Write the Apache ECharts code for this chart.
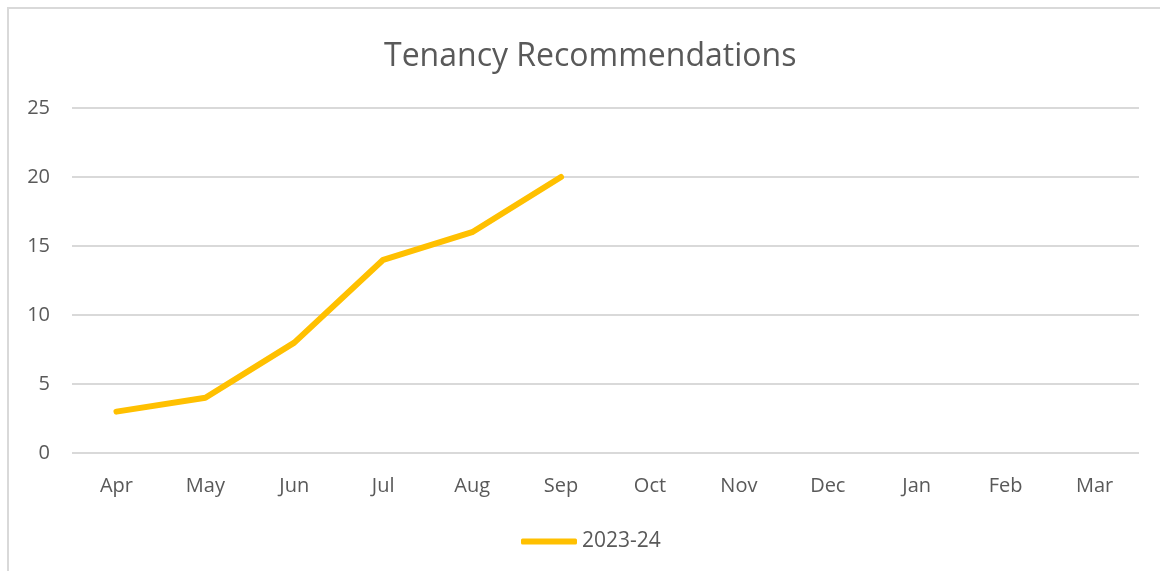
<!DOCTYPE html>
<html>
<head>
<meta charset="utf-8">
<script src="https://cdn.jsdelivr.net/npm/echarts@6/dist/echarts.min.js"></script>
<style>
  html, body { margin: 0; padding: 0; background: #fff; overflow: hidden; }
  .frame {
    position: absolute;
    left: 7px;
    top: 7px;
    width: 1200px;
    height: 600px;
    border: 2px solid #d9d9d9;
    box-sizing: border-box;
  }
  #chart { position: absolute; left: 0; top: 0; width: 1160px; height: 571px; }
</style>
</head>
<body>
<div class="frame"></div>
<div id="chart"></div>
<script>
// 数据
const months = ['Apr', 'May', 'Jun', 'Jul', 'Aug', 'Sep', 'Oct', 'Nov', 'Dec', 'Jan', 'Feb', 'Mar']
const recommendations = [3, 4, 8, 14, 16, 20, null, null, null, null, null, null]
const seriesName = '2023-24'

const textColor = '#595959'
const fontFamily = '"Open Sans", "Liberation Sans", sans-serif'

const chart = echarts.init(document.getElementById('chart'))

const option = {
  animation: false,
  title: {
    text: 'Tenancy Recommendations',
    left: 379,
    top: 36,
    textStyle: {
      color: textColor,
      fontSize: 32,
      fontWeight: 'normal',
      fontFamily: fontFamily
    }
  },
  legend: {
    data: [seriesName],
    left: 516,
    top: 526,
    icon: 'roundRect',
    itemWidth: 56,
    itemHeight: 6,
    itemGap: 4,
    textStyle: {
      color: textColor,
      fontSize: 21,
      fontFamily: fontFamily
    }
  },
  grid: {
    left: 72,
    right: 21,
    top: 108,
    bottom: 118
  },
  xAxis: {
    type: 'category',
    data: months,
    boundaryGap: true,
    axisLine: { show: false },
    axisTick: { show: false },
    axisLabel: {
      color: textColor,
      fontSize: 20,
      fontFamily: fontFamily,
      margin: 23
    }
  },
  yAxis: {
    type: 'value',
    min: 0,
    max: 25,
    interval: 5,
    axisLine: { show: false },
    axisTick: { show: false },
    axisLabel: {
      color: textColor,
      fontSize: 20,
      fontFamily: fontFamily,
      margin: 22
    },
    splitLine: {
      lineStyle: { color: '#d9d9d9', width: 2 }
    }
  },
  series: [
    {
      name: seriesName,
      type: 'line',
      data: recommendations,
      symbol: 'none',
      connectNulls: false,
      itemStyle: { color: '#ffc000' },
      lineStyle: { color: '#ffc000', width: 6, cap: 'round', join: 'round' }
    }
  ]
}

chart.setOption(option)
</script>
</body>
</html>
